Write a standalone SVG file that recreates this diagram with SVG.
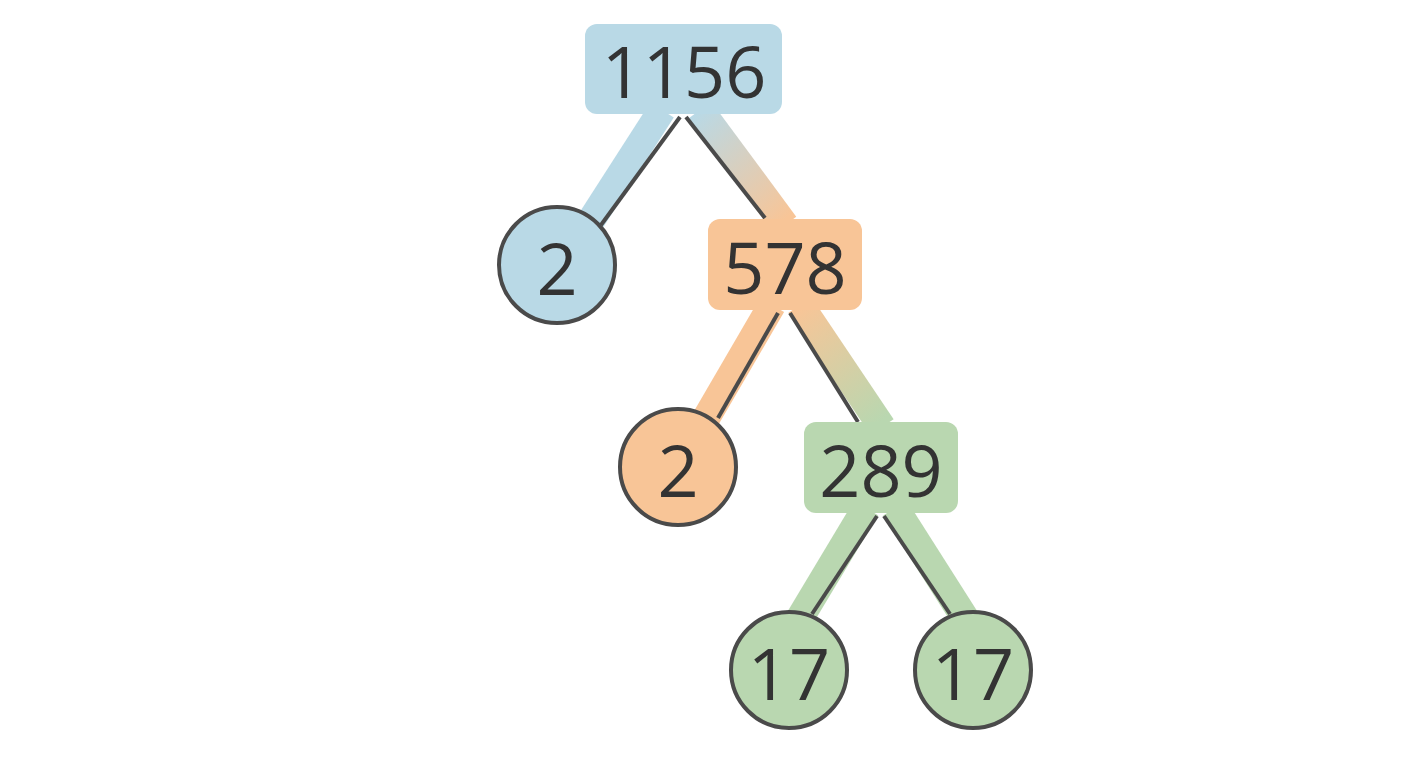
<svg xmlns="http://www.w3.org/2000/svg" width="1408" height="768" viewBox="0 0 1408 768">
<defs>
<linearGradient id="g1" gradientUnits="userSpaceOnUse" x1="695" y1="114" x2="785" y2="220"><stop offset="0" stop-color="#b9d9e6"/><stop offset="1" stop-color="#f8c597"/></linearGradient>
<linearGradient id="g2" gradientUnits="userSpaceOnUse" x1="795" y1="310" x2="880" y2="422"><stop offset="0" stop-color="#f8c597"/><stop offset="1" stop-color="#b9d7b0"/></linearGradient>
</defs>
<style>
.band{stroke-width:28;fill:none;stroke-linecap:butt}
.ln{stroke:#4a4a4a;stroke-width:4;fill:none}
.t{font-family:"Open Sans","Noto Sans",sans-serif;font-size:72px;fill:#333;text-anchor:middle;dominant-baseline:central}
.c{stroke:#4a4a4a;stroke-width:4}
.blue{fill:#b9d9e6}.orange{fill:#f8c597}.green{fill:#b9d7b0}
</style>
<rect width="1408" height="768" fill="#fff"/>
<g id="connectors">
<line class="band" x1="662" y1="110" x2="590" y2="222" stroke="#b9d9e6"/>
<line class="band" x1="700" y1="110" x2="785" y2="225" stroke="url(#g1)"/>
<line class="band" x1="772" y1="305" x2="705" y2="420" stroke="#f8c597"/>
<line class="band" x1="800" y1="305" x2="882" y2="427" stroke="url(#g2)"/>
<line class="band" x1="866" y1="508" x2="800" y2="618" stroke="#b9d7b0"/>
<line class="band" x1="895" y1="508" x2="965" y2="618" stroke="#b9d7b0"/>
<line class="ln" x1="680" y1="117" x2="601" y2="225"/>
<line class="ln" x1="686" y1="117" x2="765" y2="218"/>
<line class="ln" x1="778" y1="313" x2="718" y2="418"/>
<line class="ln" x1="790" y1="313" x2="858" y2="422"/>
<line class="ln" x1="877" y1="516" x2="812" y2="614"/>
<line class="ln" x1="884" y1="516" x2="950" y2="614"/>
</g>
<g id="n1156"><rect class="blue" x="585" y="24" width="197" height="90" rx="12"/><text class="t" x="684" y="70">1156</text></g>
<g id="n2a"><circle class="blue c" cx="557" cy="265" r="58"/><text class="t" x="557" y="267">2</text></g>
<g id="n578"><rect class="orange" x="708" y="219" width="154" height="91" rx="12"/><text class="t" x="785" y="266">578</text></g>
<g id="n2b"><circle class="orange c" cx="678" cy="467" r="58"/><text class="t" x="678" y="469">2</text></g>
<g id="n289"><rect class="green" x="804" y="422" width="154" height="91" rx="12"/><text class="t" x="881" y="469">289</text></g>
<g id="n17a"><circle class="green c" cx="789" cy="670" r="58"/><text class="t" x="789" y="672">17</text></g>
<g id="n17b"><circle class="green c" cx="973" cy="670" r="58"/><text class="t" x="973" y="672">17</text></g>
</svg>
